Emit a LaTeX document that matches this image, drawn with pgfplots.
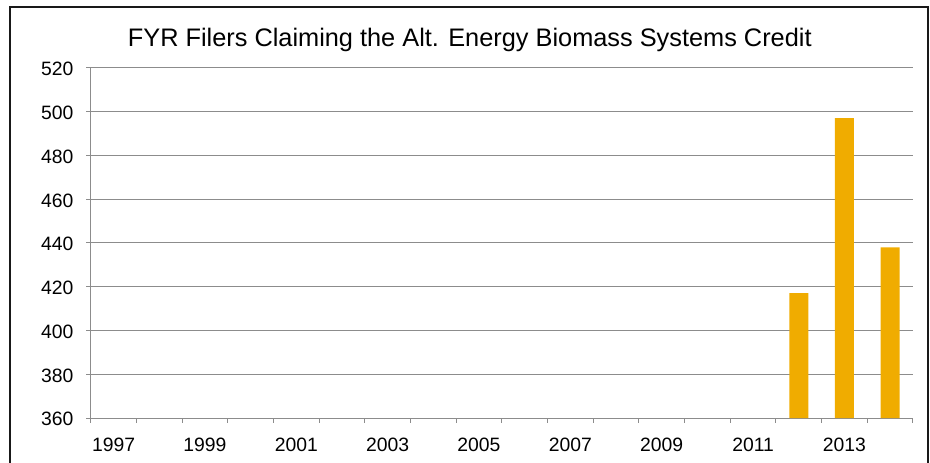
\documentclass[border=0pt]{standalone}
\usepackage{pgfplots}
\pgfplotsset{compat=1.18}
\usepackage{fontspec}
\setmainfont{Liberation Sans}
\definecolor{barc}{RGB}{240,172,0}
\definecolor{gridc}{RGB}{140,140,140}
\begin{document}
\begin{tikzpicture}
\useasboundingbox (-68.025pt,-33pt) rectangle (629.475pt,313.5pt);
\draw[line width=1.3pt, black!90] (-60.5pt,-45pt) rectangle (628pt,308.25pt);
\node[anchor=base, font=\fontsize{19}{22}\selectfont] at (284.3pt,279pt) {FYR Filers Claiming the Alt. Energy Biomass Systems Credit};
\begin{axis}[
  at={(0pt,0pt)}, anchor=south west,
  scale only axis, width=616.7pt, height=262.7pt,
  xmin=-0.5, xmax=17.5, ymin=360, ymax=520,
  ytick={360,380,...,520},
  xtick={-0.5,0.5,...,17.5},
  x tick label as interval,
  xticklabels={1997,,1999,,2001,,2003,,2005,,2007,,2009,,2011,,2013,},
  ymajorgrids, xmajorgrids=false,
  grid style={gridc, line width=0.75pt},
  axis x line*=bottom, axis y line*=left,
  axis line style={gridc, line width=0.75pt, -},
  tick align=outside, major tick length=3.5pt,
  tick style={gridc, line width=0.75pt},
  tick label style={font=\fontsize{14.5}{16}\selectfont, text=black},
  /pgf/number format/assume math mode=true,
  yticklabel style={font=\fontsize{14.5}{16}\selectfont, xshift=-6pt, yshift=-1pt},
  xticklabel style={font=\fontsize{14.5}{16}\selectfont, yshift=-8pt},
  ybar, bar width=14.25pt,
  clip=true,
]
\addplot[fill=barc, draw=none] coordinates {(15,417) (16,497) (17,438)};
\end{axis}
\end{tikzpicture}
\end{document}
